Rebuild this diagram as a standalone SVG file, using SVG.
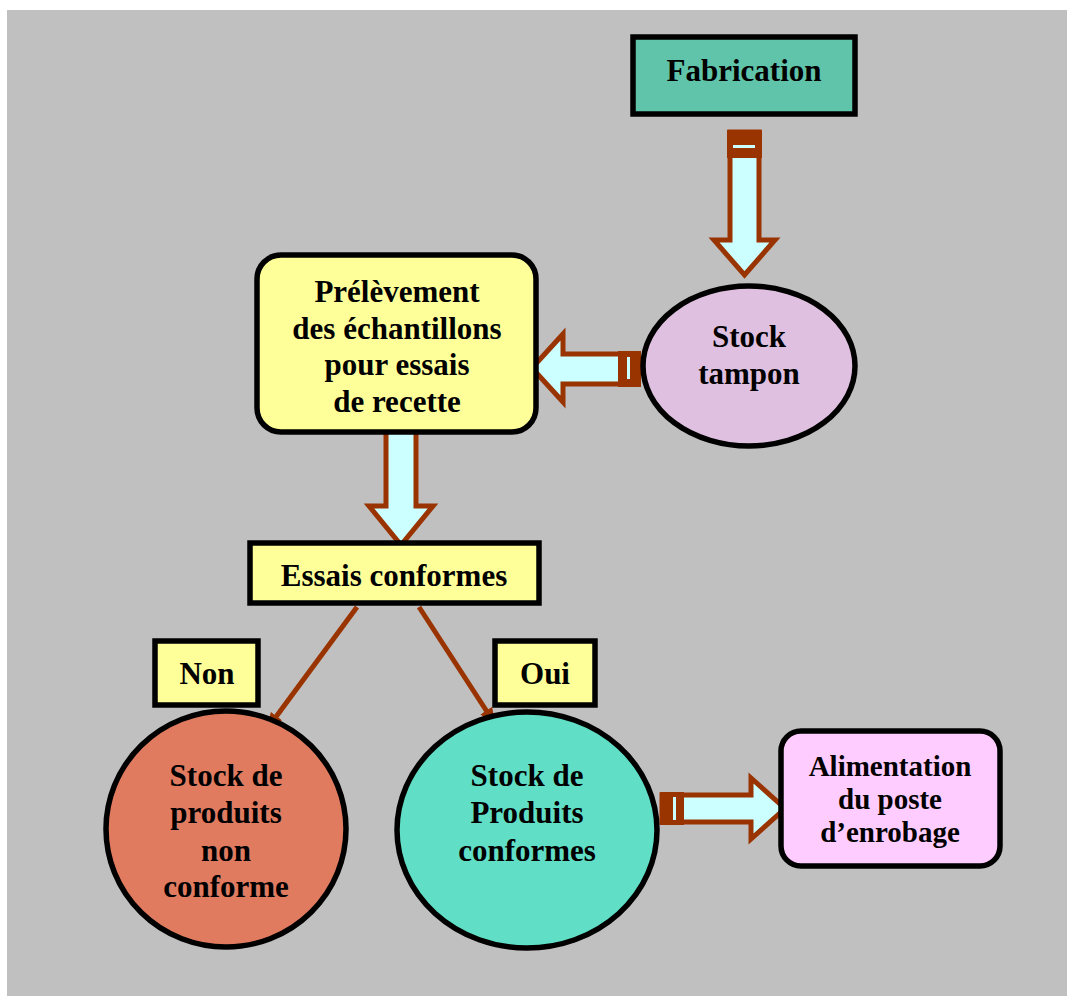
<svg xmlns="http://www.w3.org/2000/svg" width="1067" height="996" viewBox="0 0 1067 996">
<style>
.box{stroke:#000;stroke-width:5.5}
.blk{fill:#CCFFFF;stroke:#993300;stroke-width:5;stroke-linejoin:miter}
.tail{fill:#993300}
.stripe{fill:#CCFFFF}
.ln{stroke:#993300;stroke-width:5;fill:none}
text{font-family:"Liberation Serif","Times New Roman",serif;font-weight:bold;fill:#000;text-anchor:middle}
.t31{font-size:31px}
.t28{font-size:29px}
</style>
<defs>
<marker id="ah" markerUnits="userSpaceOnUse" markerWidth="20" markerHeight="16" refX="16" refY="8" orient="auto">
<path d="M0,1 L16,8 L0,15 Z" fill="#993300"/>
</marker>
</defs>
<rect x="7" y="10" width="1060" height="986" fill="#C0C0C0"/>
<g id="connectors">
<g id="arrow-fab-stock">
<polygon class="blk" points="730,132 759,132 759,240 775,240 744.5,275 714,240 730,240"/>
<rect class="tail" x="727" y="130" width="35" height="28"/>
<rect class="stripe" x="733" y="145" width="22" height="3"/>
</g>
<g id="arrow-stock-prel">
<polygon class="blk" points="638,354 563,354 563,334 532,368 563,402 563,384 638,384"/>
<rect class="tail" x="618" y="351" width="23" height="36"/>
<rect class="stripe" x="627" y="357" width="3" height="22"/>
</g>
<g id="arrow-prel-essais">
<polygon class="blk" points="386,428 416,428 416,506 433,506 401,545 369,506 386,506"/>
</g>
<g id="arrow-conf-alim">
<polygon class="blk" points="662,795 751,795 751,778 785,808.5 751,839 751,822 662,822"/>
<rect class="tail" x="660" y="792" width="24" height="33"/>
<rect class="stripe" x="673" y="797" width="3" height="23"/>
</g>
<line class="ln" x1="357" y1="607" x2="267" y2="729" marker-end="url(#ah)"/>
<line class="ln" x1="419" y1="607" x2="495" y2="724" marker-end="url(#ah)"/>
</g>
<g id="fabrication">
<rect class="box" x="633" y="37" width="222" height="77" fill="#5FC4AA"/>
<text class="t31" x="744" y="81">Fabrication</text>
</g>
<g id="stock-tampon">
<ellipse class="box" cx="749" cy="366" rx="106" ry="80" fill="#E0C0E0"/>
<text class="t31" x="749" y="347">Stock</text>
<text class="t31" x="749" y="384">tampon</text>
</g>
<g id="prelevement">
<rect class="box" x="257" y="255" width="279" height="177" rx="24" fill="#FFFF99"/>
<text class="t31" x="397" y="302">Prélèvement</text>
<text class="t31" x="397" y="339">des échantillons</text>
<text class="t31" x="397" y="375">pour essais</text>
<text class="t31" x="397" y="412">de recette</text>
</g>
<g id="essais">
<rect class="box" x="250" y="543" width="289" height="60" fill="#FFFF99"/>
<text class="t31" x="394" y="586">Essais conformes</text>
</g>
<g id="non">
<rect class="box" x="155" y="641" width="103" height="64" fill="#FFFF99"/>
<text class="t31" x="207" y="684">Non</text>
</g>
<g id="oui">
<rect class="box" x="495" y="641" width="100" height="64" fill="#FFFF99"/>
<text class="t31" x="545" y="684">Oui</text>
</g>
<g id="non-conforme">
<ellipse class="box" cx="226" cy="829" rx="120" ry="118" fill="#E07B60"/>
<text class="t31" x="226" y="786">Stock de</text>
<text class="t31" x="226" y="823">produits</text>
<text class="t31" x="226" y="861">non</text>
<text class="t31" x="226" y="897">conforme</text>
</g>
<g id="conformes">
<ellipse class="box" cx="527" cy="830" rx="130" ry="118" fill="#60DFC6"/>
<text class="t31" x="527" y="786">Stock de</text>
<text class="t31" x="527" y="823">Produits</text>
<text class="t31" x="527" y="861">conformes</text>
</g>
<g id="alimentation">
<rect class="box" x="781" y="731" width="219" height="135" rx="20" fill="#FFCCFF"/>
<text class="t28" x="890" y="776">Alimentation</text>
<text class="t28" x="890" y="809">du poste</text>
<text class="t28" x="890" y="842">d’enrobage</text>
</g>
</svg>
